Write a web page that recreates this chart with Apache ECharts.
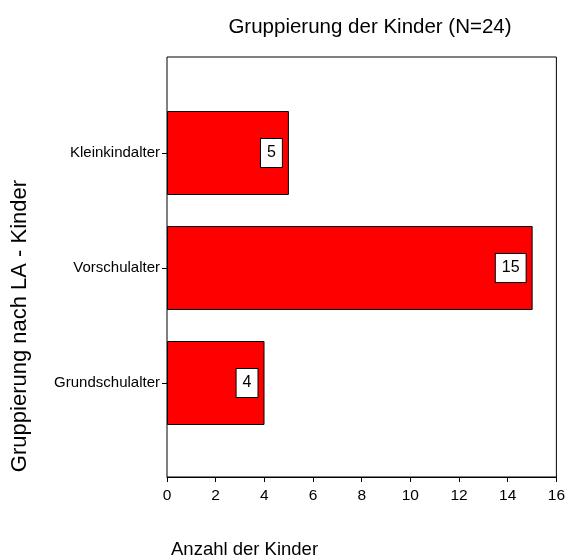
<!DOCTYPE html>
<html>
<head>
<meta charset="utf-8">
<script src="https://cdn.jsdelivr.net/npm/echarts@6/dist/echarts.min.js"></script>
<style>
html,body{margin:0;padding:0;background:#fff;}
#chart{width:568px;height:558px;}
</style>
</head>
<body>
<div id="chart"></div>
<script>
const categories = ['Kleinkindalter', 'Vorschulalter', 'Grundschulalter'];
const counts = [5, 15, 4];
const chartTitle = 'Gruppierung der Kinder (N=24)';
const xAxisTitle = 'Anzahl der Kinder';
const yAxisTitle = 'Gruppierung nach LA - Kinder';
const xMin = 0, xMax = 16, xStep = 2;

const FONT = '"Liberation Sans", Arial, sans-serif';
const chart = echarts.init(document.getElementById('chart'), null, {renderer: 'canvas'});

chart.setOption({
  animation: false,
  backgroundColor: '#ffffff',
  textStyle: {fontFamily: FONT, color: '#000'},
  title: [
    {text: chartTitle, left: 365, top: 12, textAlign: 'center',
     textStyle: {fontFamily: FONT, fontSize: 20.5, fontWeight: 'normal', color: '#000'}},
    {text: xAxisTitle, left: 166, top: 535,
     textStyle: {fontFamily: FONT, fontSize: 18.5, fontWeight: 'normal', color: '#000'}}
  ],
  graphic: [{
    type: 'text', x: 20, y: 326, rotation: Math.PI / 2,
    style: {text: yAxisTitle, fill: '#000', font: '22px ' + FONT, textAlign: 'center', textVerticalAlign: 'middle'}
  }],
  grid: [
    {left: 167, right: 11, top: 57, bottom: 81, show: true, borderColor: '#000', borderWidth: 1, backgroundColor: 'transparent'},
    {left: 167, right: 11, top: 95.5, bottom: 117.5, show: false}
  ],
  xAxis: [
    {gridIndex: 0, type: 'value', min: xMin, max: xMax, interval: xStep,
     axisLine: {show: true, lineStyle: {color: '#000', width: 1}},
     axisTick: {show: true, inside: false, length: 5, lineStyle: {color: '#000'}},
     axisLabel: {color: '#000', fontSize: 15.5, margin: 11, fontFamily: FONT},
     splitLine: {show: false}},
    {gridIndex: 1, type: 'value', min: xMin, max: xMax, show: false, splitLine: {show: false}}
  ],
  yAxis: [
    {gridIndex: 0, type: 'value', min: 0, max: 1,
     axisLine: {show: false}, axisTick: {show: false}, axisLabel: {show: false}, splitLine: {show: false}},
    {gridIndex: 1, type: 'category', data: categories, inverse: true,
     axisLine: {show: false},
     axisTick: {show: true, alignWithLabel: true, length: 5, lineStyle: {color: '#000'}},
     axisLabel: {color: '#000', fontSize: 15, margin: 7, fontFamily: FONT},
     splitLine: {show: false}}
  ],
  series: [{
    type: 'bar',
    xAxisIndex: 1, yAxisIndex: 1,
    data: counts,
    barCategoryGap: '27%',
    itemStyle: {color: '#ff0000', borderColor: '#000', borderWidth: 1},
    label: {
      show: true, position: 'insideRight', distance: 7,
      color: '#000', fontSize: 16, fontFamily: FONT,
      backgroundColor: '#fff', borderColor: '#000', borderWidth: 1,
      padding: [6, 6, 6, 6]
    }
  }]
});
</script>
</body>
</html>
